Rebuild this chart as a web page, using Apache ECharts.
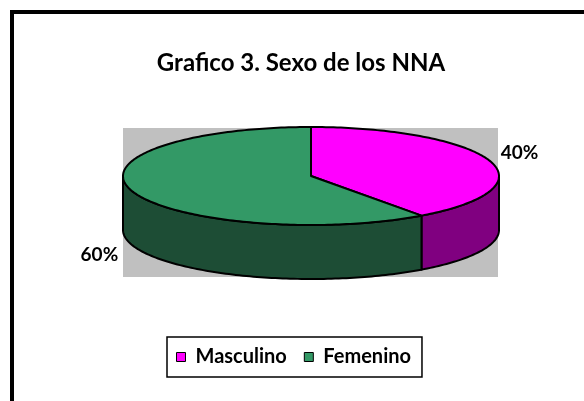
<!DOCTYPE html>
<html>
<head>
<meta charset="utf-8">
<script src="https://cdn.jsdelivr.net/npm/echarts@6/dist/echarts.min.js"></script>
<style>
  html, body { margin: 0; padding: 0; background: #fff; }
  #chart { width: 584px; height: 401px; }
</style>
</head>
<body>
<div id="chart"></div>
<script>
// datos del grafico
const categories = ['Masculino', 'Femenino']
const values = [40, 60]
const pctLabels = ['40%', '60%']
const topColors = ['#FF00FF', '#339966']
const sideColors = ['#800080', '#1D4D35']

const FONT = 'Lato'

// geometria del pastel 3D (elipse superior + profundidad)
const pie = { cx: 311, cy: 176, rx: 188, ry: 49, depth: 54 }

const total = values.reduce((a, b) => a + b, 0)
const starts = []
let acc = 0
values.forEach(v => { starts.push(acc / total); acc += v })

const pt = (theta, dy) => [
  pie.cx + pie.rx * Math.sin(theta),
  pie.cy - pie.ry * Math.cos(theta) + (dy || 0)
]

const arc = (a, b, dy) => {
  const pts = []
  const n = Math.max(8, Math.ceil(Math.abs(b - a) / 0.02))
  for (let k = 0; k <= n; k++) pts.push(pt(a + (b - a) * k / n, dy))
  return pts
}

const renderSlice = (idx) => (params, api) => {
  const v = api.value(0)
  const a1 = starts[idx] * Math.PI * 2
  const a2 = a1 + v / total * Math.PI * 2
  const children = []

  // pared lateral visible (mitad frontal)
  const s = Math.max(a1, Math.PI / 2)
  const e = Math.min(a2, Math.PI * 1.5)
  if (e > s) {
    const top = arc(s, e, 0)
    const bottom = arc(e, s, pie.depth)
    children.push({
      type: 'polygon',
      shape: { points: top.concat(bottom) },
      style: { fill: sideColors[idx], stroke: '#000', lineWidth: 2 }
    })
  }

  // cara superior
  children.push({
    type: 'polygon',
    shape: { points: [[pie.cx, pie.cy]].concat(arc(a1, a2, 0)) },
    style: { fill: topColors[idx], stroke: '#000', lineWidth: 2, lineJoin: 'round' },
    z2: 10
  })

  // etiqueta de porcentaje
  const mid = (a1 + a2) / 2
  const p = pt(mid, 0)
  const right = Math.sin(mid) >= 0
  const front = Math.cos(mid) < 0
  children.push({
    type: 'text',
    x: p[0] + (right ? 11 : -14),
    y: p[1] + (front ? pie.depth + 10 : -8),
    style: {
      text: pctLabels[idx],
      fill: '#000',
      font: 'bold 19px ' + FONT,
      align: right ? 'left' : 'right',
      verticalAlign: 'middle'
    },
    z2: 20
  })

  return { type: 'group', children }
}

const chart = echarts.init(document.getElementById('chart'), null, { renderer: 'canvas' })

chart.setOption({
  animation: false,
  backgroundColor: '#fff',
  title: {
    text: 'Grafico 3. Sexo de los NNA',
    left: 296,
    top: 46,
    textAlign: 'center',
    textStyle: { fontFamily: FONT, fontWeight: 'bold', fontSize: 24, color: '#000' }
  },
  legend: {
    data: categories,
    left: 167,
    top: 337,
    padding: [10, 11, 10, 9],
    borderColor: '#000',
    borderWidth: 1.5,
    itemWidth: 9,
    itemHeight: 9,
    itemGap: 17,
    icon: 'rect',
    itemStyle: { borderColor: '#000', borderWidth: 1 },
    textStyle: { fontFamily: FONT, fontWeight: 'bold', fontSize: 20, color: '#000', padding: [0, 0, 0, 5] },
    selectedMode: false
  },
  graphic: [
    {
      type: 'rect',
      shape: { x: 12, y: 12, width: 620, height: 420 },
      style: { fill: 'none', stroke: '#000', lineWidth: 4 },
      silent: true
    },
    {
      type: 'rect',
      shape: { x: 123, y: 128, width: 375, height: 149 },
      style: { fill: '#C0C0C0' },
      z: -1,
      silent: true
    }
  ],
  series: categories.map((name, i) => ({
    name,
    type: 'custom',
    coordinateSystem: 'none',
    silent: true,
    z: 2,
    itemStyle: { color: topColors[i] },
    renderItem: renderSlice(i),
    data: [[values[i]]]
  }))
})
</script>
</body>
</html>
